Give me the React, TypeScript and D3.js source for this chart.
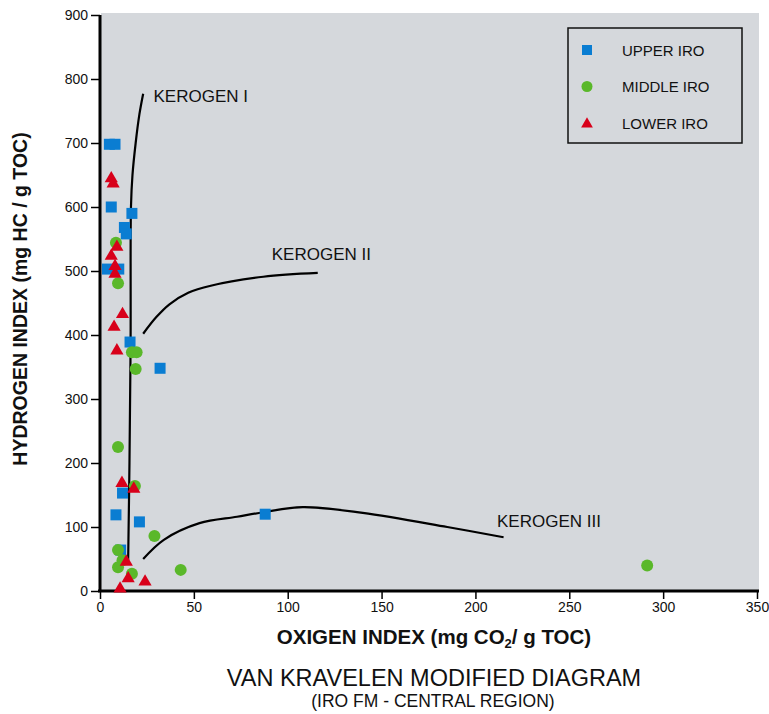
import { useEffect, useRef } from 'react';
import * as d3 from 'd3';

// Oxygen index (x) / hydrogen index (y) samples
const upperOI = [5, 8, 6, 17, 13, 14, 4, 10, 16, 32, 12, 8.5, 21, 11, 88];
const upperHI = [698, 698, 600, 590, 568, 558, 503, 503, 389, 348, 153, 119, 108, 64, 120];

const middleOI = [8.5, 9.6, 17, 19.5, 19, 9.6, 18.6, 29, 9.6, 12, 9.6, 17, 43, 291.5];
const middleHI = [544, 481, 373, 373, 347, 225, 164, 86, 64, 48, 37, 27, 33, 40];

const lowerOI = [6, 7, 9, 6, 8, 8, 12, 7.5, 9, 11.7, 18, 14, 15, 24, 10.7];
const lowerHI = [646, 638, 539, 525, 509, 497, 434, 414, 377, 170, 161, 47, 21, 16, 5];

// kerogen evolution paths
const kerogen1: [number, number][] = [[15, 48], [15.7, 200], [16.3, 392], [16.5, 600], [17.3, 650], [19, 700], [21, 745], [23, 777]];
const kerogen2: [number, number][] = [[23, 402], [30, 428], [37, 448], [47, 466], [59, 477], [87, 491], [116, 497]];
const kerogen3: [number, number][] = [[23, 50], [34, 80], [53, 106], [73, 116], [87, 123], [108, 131], [140, 122], [185, 100], [215, 84]];

const xTicks = [0, 50, 100, 150, 200, 250, 300, 350];
const yTicks = [0, 100, 200, 300, 400, 500, 600, 700, 800, 900];

const BLUE = '#0a7dd2';
const GREEN = '#5ab82a';
const RED = '#d8001a';

export default function App() {
  const svgRef = useRef<SVGSVGElement>(null);

  useEffect(() => {
    if (!svgRef.current) return;
    const svg = d3.select(svgRef.current);
    svg.selectAll('*').remove();

    const x = d3.scaleLinear().domain([0, 350]).range([100, 757]);
    const y = d3.scaleLinear().domain([0, 900]).range([591, 15]);
    const font = 'Arial, "Liberation Sans", Helvetica, sans-serif';
    const narrow = '"Liberation Sans Narrow", "Arial Narrow", Arial, sans-serif';

    // plot background
    svg.append('rect')
      .attr('x', x(0) + 1)
      .attr('y', y(900) - 2)
      .attr('width', x(350) - x(0) + 1)
      .attr('height', y(0) - y(900) + 2)
      .attr('fill', '#d5d8dc');

    // axes
    const xAxis = svg.append('g')
      .attr('transform', `translate(0,${y(0)})`)
      .call(d3.axisBottom(x).tickValues(xTicks).tickSize(8).tickPadding(3).tickFormat(d3.format('d')));
    const yAxis = svg.append('g')
      .attr('transform', `translate(${x(0)},0)`)
      .call(d3.axisLeft(y).tickValues(yTicks).tickSize(9).tickPadding(3).tickFormat(d3.format('d')));

    [xAxis, yAxis].forEach(a => {
      a.select('.domain').attr('stroke', '#000').attr('stroke-width', 3);
      a.selectAll('.tick line').attr('stroke', '#000').attr('stroke-width', 1.5);
      a.selectAll('.tick text').attr('fill', '#111').attr('font-family', font).attr('font-size', 14);
    });
    xAxis.select('.domain').attr('d', `M${x(0) - 2},0H${x(350) + 2}`);
    yAxis.select('.domain').attr('d', `M0,${y(900)}V${y(0) + 1}`);

    // kerogen curves
    const line = d3.line<[number, number]>()
      .x(d => x(d[0]))
      .y(d => y(d[1]))
      .curve(d3.curveCatmullRom);
    [kerogen1, kerogen2, kerogen3].forEach(k => {
      svg.append('path')
        .datum(k)
        .attr('d', line)
        .attr('fill', 'none')
        .attr('stroke', '#000')
        .attr('stroke-width', 2.2);
    });

    const kLabel = (t: string, px: number, py: number) =>
      svg.append('text')
        .attr('x', px).attr('y', py)
        .attr('font-family', font).attr('font-size', 17)
        .attr('fill', '#111')
        .text(t);
    kLabel('KEROGEN I', x(28.5), 102);
    kLabel('KEROGEN II', x(91.5), 260);
    kLabel('KEROGEN III', x(211.5), 527);

    // points
    const lower = d3.zip(lowerOI, lowerHI);
    const middle = d3.zip(middleOI, middleHI);
    const upper = d3.zip(upperOI, upperHI);

    svg.append('g').selectAll('rect')
      .data(upper)
      .join('rect')
      .attr('x', d => x(d[0]) - 5.5)
      .attr('y', d => y(d[1]) - 5.5)
      .attr('width', 11)
      .attr('height', 11)
      .attr('fill', BLUE);

    svg.append('g').selectAll('circle')
      .data(middle)
      .join('circle')
      .attr('cx', d => x(d[0]))
      .attr('cy', d => y(d[1]))
      .attr('r', 6)
      .attr('fill', GREEN);

    const tri = d3.symbol().type(d3.symbolTriangle).size(75);
    svg.append('g').selectAll('path')
      .data(lower)
      .join('path')
      .attr('transform', d => `translate(${x(d[0])},${y(d[1]) + 1})`)
      .attr('d', tri)
      .attr('fill', RED);

    // legend
    const lg = svg.append('g');
    lg.append('rect')
      .attr('x', 568).attr('y', 28)
      .attr('width', 174).attr('height', 115)
      .attr('fill', 'none').attr('stroke', '#111').attr('stroke-width', 1.5);
    const items = [
      { name: 'UPPER IRO', kind: 'square', color: BLUE },
      { name: 'MIDDLE IRO', kind: 'circle', color: GREEN },
      { name: 'LOWER IRO', kind: 'triangle', color: RED },
    ];
    items.forEach((it, i) => {
      const cy = 50 + i * 36.5;
      if (it.kind === 'square') {
        lg.append('rect').attr('x', 582).attr('y', cy - 5).attr('width', 10).attr('height', 10).attr('fill', it.color);
      } else if (it.kind === 'circle') {
        lg.append('circle').attr('cx', 587).attr('cy', cy).attr('r', 5.5).attr('fill', it.color);
      } else {
        lg.append('path').attr('transform', `translate(587,${cy + 1})`)
          .attr('d', d3.symbol().type(d3.symbolTriangle).size(60)()).attr('fill', it.color);
      }
      lg.append('text')
        .attr('x', 622).attr('y', cy + 5.5)
        .attr('font-family', font).attr('font-size', 15)
        .attr('fill', '#111')
        .text(it.name);
    });

    // axis titles
    const xt = svg.append('text')
      .attr('x', 434).attr('y', 644)
      .attr('text-anchor', 'middle')
      .attr('font-family', narrow).attr('font-size', 20.5).attr('font-weight', 'bold')
      .attr('fill', '#111');
    xt.append('tspan').text('OXIGEN INDEX (mg CO');
    xt.append('tspan').attr('font-size', 13).attr('dy', 4).text('2');
    xt.append('tspan').attr('dy', -4).text('/ g TOC)');

    svg.append('text')
      .attr('transform', `translate(27,${y(450) - 4}) rotate(-90)`)
      .attr('text-anchor', 'middle')
      .attr('font-family', narrow).attr('font-size', 19.5).attr('font-weight', 'bold')
      .attr('fill', '#111')
      .text('HYDROGEN INDEX (mg HC / g TOC)');

    // title
    svg.append('text')
      .attr('x', 434).attr('y', 686)
      .attr('text-anchor', 'middle')
      .attr('font-family', narrow).attr('font-size', 23.5)
      .attr('fill', '#111')
      .text('VAN KRAVELEN MODIFIED DIAGRAM');
    svg.append('text')
      .attr('x', 433).attr('y', 707)
      .attr('text-anchor', 'middle')
      .attr('font-family', narrow).attr('font-size', 17.5)
      .attr('fill', '#111')
      .text('(IRO FM - CENTRAL REGION)');
  }, []);

  return (
    <svg
      ref={svgRef}
      width={769}
      height={714}
      style={{ position: 'absolute', left: 0, top: 0, background: '#fff', display: 'block' }}
    />
  );
}
